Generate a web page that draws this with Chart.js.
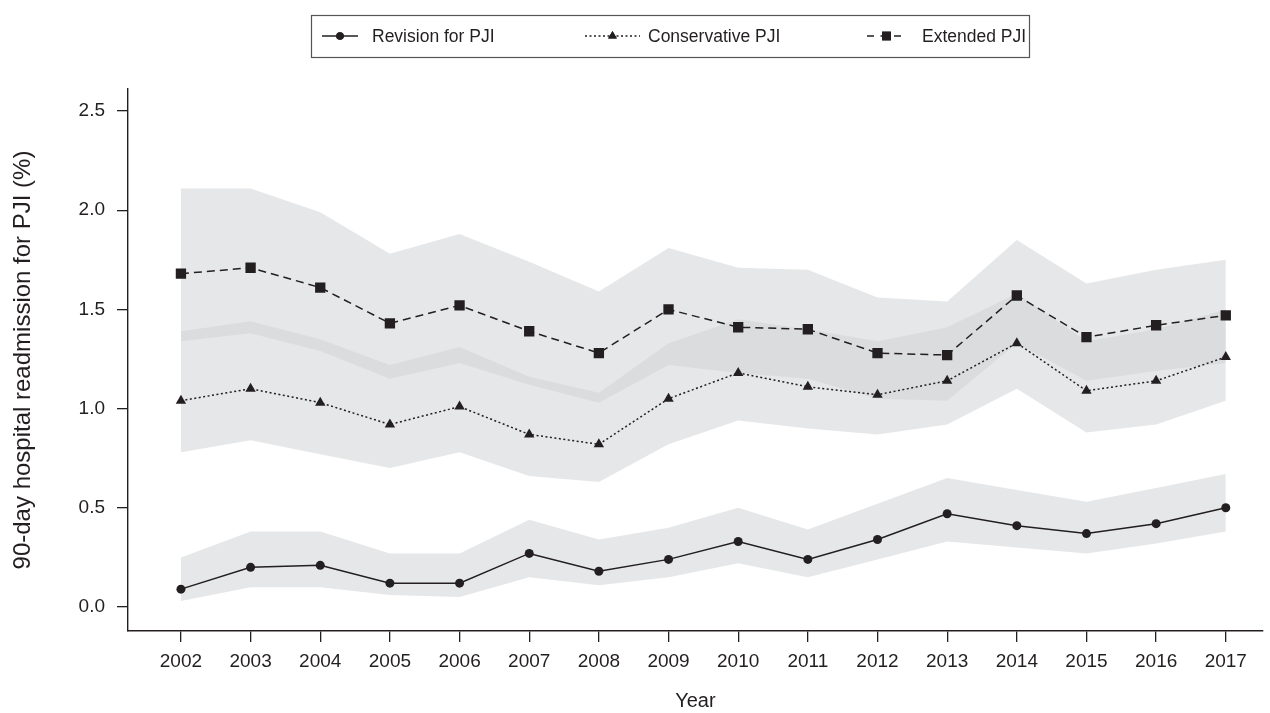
<!DOCTYPE html>
<html>
<head>
<meta charset="utf-8">
<script src="https://cdn.jsdelivr.net/npm/chart.js@4.4.1/dist/chart.umd.min.js"></script>
<style>
  body { margin: 0; background: #fff; }
</style>
</head>
<body>
<canvas id="chartPJI" width="1270" height="713"></canvas>
<script>
const years = [2002, 2003, 2004, 2005, 2006, 2007, 2008, 2009, 2010, 2011, 2012, 2013, 2014, 2015, 2016, 2017];
const yTicks = [0, 0.5, 1.0, 1.5, 2.0, 2.5];

const revision = [0.09, 0.20, 0.21, 0.12, 0.12, 0.27, 0.18, 0.24, 0.33, 0.24, 0.34, 0.47, 0.41, 0.37, 0.42, 0.50];
const revisionLow = [0.03, 0.10, 0.10, 0.06, 0.05, 0.15, 0.11, 0.15, 0.22, 0.15, 0.24, 0.33, 0.30, 0.27, 0.32, 0.38];
const revisionHigh = [0.25, 0.38, 0.38, 0.27, 0.27, 0.44, 0.34, 0.40, 0.50, 0.39, 0.52, 0.65, 0.59, 0.53, 0.60, 0.67];

const conservative = [1.04, 1.10, 1.03, 0.92, 1.01, 0.87, 0.82, 1.05, 1.18, 1.11, 1.07, 1.14, 1.33, 1.09, 1.14, 1.26];
const conservativeLow = [0.78, 0.84, 0.77, 0.70, 0.78, 0.66, 0.63, 0.82, 0.94, 0.90, 0.87, 0.92, 1.10, 0.88, 0.92, 1.04];
const conservativeHigh = [1.39, 1.44, 1.35, 1.22, 1.31, 1.16, 1.08, 1.33, 1.45, 1.40, 1.34, 1.41, 1.58, 1.34, 1.40, 1.50];

const extended = [1.68, 1.71, 1.61, 1.43, 1.52, 1.39, 1.28, 1.50, 1.41, 1.40, 1.28, 1.27, 1.57, 1.36, 1.42, 1.47];
const extendedLow = [1.34, 1.38, 1.29, 1.15, 1.23, 1.12, 1.03, 1.22, 1.18, 1.15, 1.05, 1.04, 1.33, 1.14, 1.19, 1.23];
const extendedHigh = [2.11, 2.11, 1.99, 1.78, 1.88, 1.74, 1.59, 1.81, 1.71, 1.70, 1.56, 1.54, 1.85, 1.63, 1.70, 1.75];

const ink = "#231f20";
const bandFill = "rgba(210, 212, 214, 0.56)";
const font = "'Liberation Sans', Arial, sans-serif";

const pts = (vals) => vals.map((v, i) => ({ x: years[i], y: v }));

const series = [
  { label: "Revision for PJI", data: revision, style: "circle", radius: 4.5, dash: [] },
  { label: "Conservative PJI", data: conservative, style: "triangle", radius: 6, dash: [2, 2.5] },
  { label: "Extended PJI", data: extended, style: "rect", radius: 7.3, dash: [8, 5] },
];

function band(high, low) {
  return [
    { data: pts(high), fill: "+1", backgroundColor: bandFill, borderWidth: 0, pointRadius: 0 },
    { data: pts(low), fill: false, borderWidth: 0, pointRadius: 0 },
  ];
}

const datasets = [
  ...band(extendedHigh, extendedLow),
  ...band(conservativeHigh, conservativeLow),
  ...band(revisionHigh, revisionLow),
];
series.forEach((s) => {
  datasets.push({
    label: s.label,
    data: pts(s.data),
    borderColor: ink,
    backgroundColor: ink,
    borderWidth: 1.5,
    borderDash: s.dash,
    pointStyle: s.style,
    pointRadius: s.radius,
    pointBorderWidth: 0,
    fill: false,
    order: -1,
  });
});

// legend box drawn by hand so the line samples look like the original
const legendBox = {
  id: "legendBox",
  afterDraw(chart) {
    const ctx = chart.ctx;
    ctx.save();
    ctx.strokeStyle = "#555";
    ctx.lineWidth = 1.2;
    ctx.strokeRect(311.5, 15.5, 718, 42);
    const y = 36;
    const items = [
      { s: series[0], x0: 322, x1: 358, tx: 372, dash: [] },
      { s: series[1], x0: 585, x1: 640, tx: 648, dash: [2, 2.5] },
      { s: series[2], x0: 867, x1: 906, tx: 922, dash: [7, 6.5] },
    ];
    items.forEach((it) => {
      ctx.strokeStyle = ink;
      ctx.lineWidth = 1.5;
      ctx.setLineDash(it.dash);
      ctx.beginPath();
      ctx.moveTo(it.x0, y);
      ctx.lineTo(it.x1, y);
      ctx.stroke();
      ctx.setLineDash([]);
      ctx.fillStyle = ink;
      Chart.helpers.drawPoint(ctx, { pointStyle: it.s.style, radius: it.s.radius * 0.85, borderWidth: 0 }, (it.x0 + it.x1) / 2, y);
      ctx.fill();
      ctx.font = "17.5px " + font;
      ctx.textBaseline = "middle";
      ctx.fillText(it.s.label, it.tx, y + 1);
    });
    ctx.restore();
  },
};

new Chart(document.getElementById("chartPJI"), {
  type: "line",
  data: { datasets },
  options: {
    responsive: false,
    devicePixelRatio: 1,
    animation: false,
    layout: { padding: { top: 89, right: 5, left: 0, bottom: 0 } },
    plugins: { legend: { display: false }, tooltip: { enabled: false } },
    scales: {
      x: {
        type: "linear",
        min: 2001.24,
        max: 2017.53,
        afterBuildTicks: (s) => { s.ticks = years.map((v) => ({ value: v })); },
        afterFit: (s) => { s.height = 82; },
        ticks: { color: ink, font: { family: font, size: 19 }, padding: 8, callback: (v) => String(v), maxRotation: 0 },
        grid: { drawOnChartArea: false, drawTicks: true, tickLength: 11, color: ink, lineWidth: 1.3 },
        border: { color: ink, width: 1.4 },
        title: { display: true, text: "Year", color: ink, font: { family: font, size: 20 }, padding: { top: 0, bottom: 0 } },
      },
      y: {
        min: -0.121,
        max: 2.611,
        afterBuildTicks: (s) => { s.ticks = yTicks.map((v) => ({ value: v })); },
        afterFit: (s) => { s.width = 128; },
        ticks: { color: ink, font: { family: font, size: 19 }, padding: 12, callback: (v) => v.toFixed(1) },
        grid: { drawOnChartArea: false, drawTicks: true, tickLength: 11, color: ink, lineWidth: 1.3 },
        border: { color: ink, width: 1.4 },
        title: { display: true, text: "90-day hospital readmission for PJI (%)", color: ink, font: { family: font, size: 24 }, padding: { top: 9, bottom: 0 } },
      },
    },
  },
  plugins: [legendBox],
});
</script>
</body>
</html>
